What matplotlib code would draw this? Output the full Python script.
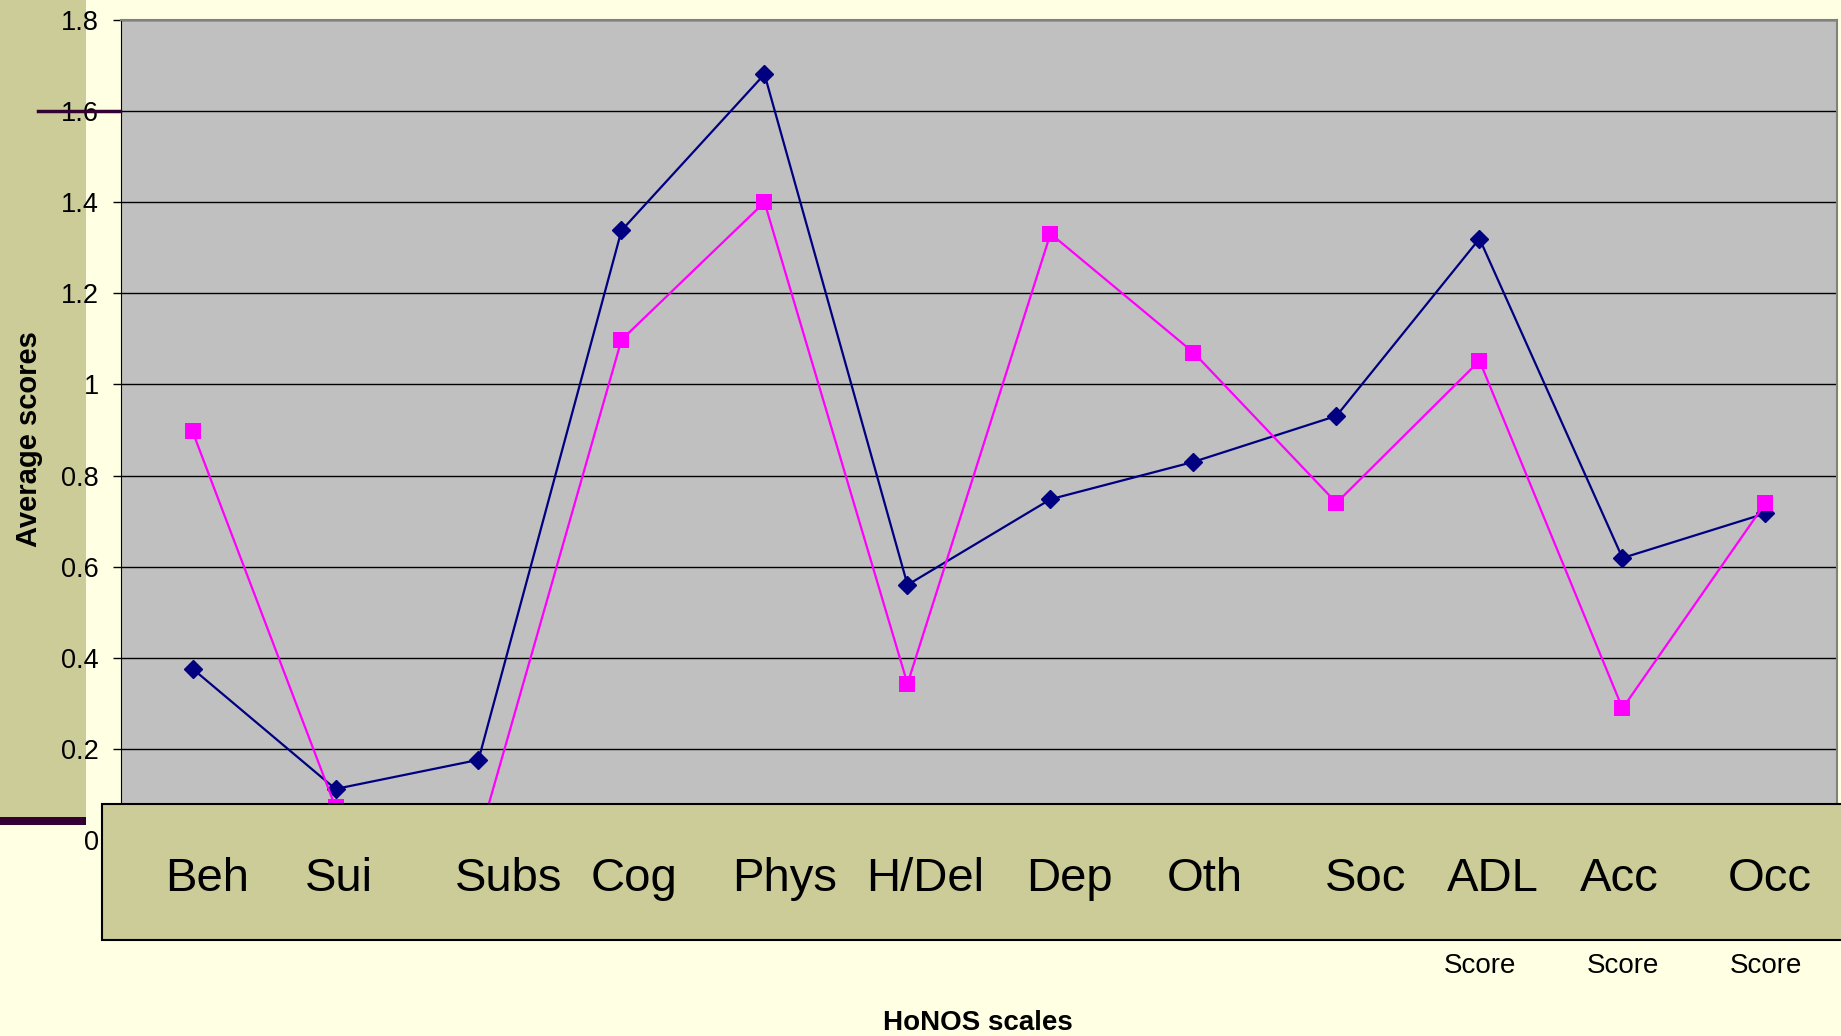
import matplotlib
matplotlib.use("Agg")
import matplotlib.pyplot as plt
import matplotlib.transforms as mtransforms
from matplotlib.patches import Rectangle
from matplotlib.lines import Line2D

# HoNOS scales, average scores for the two groups
scales = ["Beh", "Sui", "Subs", "Cog", "Phys", "H/Del", "Dep", "Oth",
          "Soc", "ADL", "Acc", "Occ"]
blue_scores = [0.376, 0.112, 0.176, 1.338, 1.681, 0.560, 0.748, 0.830,
               0.931, 1.320, 0.619, 0.717]
pink_scores = [0.897, 0.072, 0.0, 1.098, 1.400, 0.343, 1.331, 1.070,
               0.740, 1.052, 0.289, 0.740]
yticks = [0, 0.2, 0.4, 0.6, 0.8, 1, 1.2, 1.4, 1.6, 1.8]
ytick_labels = ["0", "0.2", "0.4", "0.6", "0.8", "1", "1.2", "1.4", "1.6", "1.8"]
# where the big labels sit in the tan box (category units)
label_x = [0.10, 1.025, 2.21, 3.09, 4.14, 5.12, 6.13, 7.08, 8.20, 9.09, 9.98, 11.03]
score_idx = [9, 10, 11]

BG = "#FFFFE3"
TAN = "#CCCC99"
DARK = "#330033"
FONT = ["Liberation Sans", "DejaVu Sans"]

plt.rcParams['font.family'] = FONT

W, H = 1841, 1036
fig = plt.figure(figsize=(W / 100, H / 100), dpi=100, facecolor=BG)

# tan strip on the left, behind everything
fig.add_artist(Rectangle((0, (H - 817) / H), 86 / W, 817 / H,
                         transform=fig.transFigure, facecolor=TAN,
                         edgecolor="none", zorder=-2))
fig.add_artist(Rectangle((0, (H - 825) / H), 86 / W, 8 / H,
                         transform=fig.transFigure, facecolor=DARK,
                         edgecolor="none", zorder=-1))

ax = fig.add_axes([121 / W, (H - 840) / H, (1837 - 121) / W, 820 / H])
ax.set_facecolor("#C0C0C0")

x = list(range(len(scales)))
ax.plot(x, blue_scores, color="#000080", lw=1.6, marker="D", ms=9,
        mec="#000080", mfc="#000080", zorder=3, clip_on=False)
ax.plot(x, pink_scores, color="#FF00FF", lw=1.6, marker="s", ms=11,
        mew=0, mfc="#FF00FF", zorder=4)

ax.set_xlim(-0.5, len(scales) - 0.5)
ax.set_ylim(0, 1.8)
ax.set_yticks(yticks)
ax.set_yticklabels(ytick_labels, fontsize=19.5)
ax.tick_params(axis="y", direction="out", length=6, width=1, pad=10)
ax.set_xticks([])
ax.grid(axis="y", color="black", lw=1)
ax.set_axisbelow(True)
for side in ["top", "right"]:
    ax.spines[side].set_color("#808080")
    ax.spines[side].set_linewidth(1.5)
ax.spines["left"].set_color("black")
ax.spines["bottom"].set_visible(False)

# dark marker line at 1.6 running into the axis
tr = mtransforms.blended_transform_factory(fig.transFigure, ax.transData)
fig.add_artist(Line2D([38 / W, 120 / W], [1.6, 1.6], transform=tr,
                      color=DARK, lw=2.5, zorder=5))

# tan box covering the bottom of the plot, holding the category names
fig.add_artist(Rectangle((102 / W, (H - 940) / H), 1 - 102 / W + 0.01, 136 / H,
                         transform=fig.transFigure, facecolor=TAN,
                         edgecolor="black", lw=1.5, zorder=2))

tx = mtransforms.blended_transform_factory(ax.transData, fig.transFigure)
for lx, name in zip(label_x, scales):
    fig.text(lx, (H - 891) / H, name, transform=tx, fontsize=34,
             ha="center", va="baseline", zorder=6)
for i in score_idx:
    fig.text(x[i], (H - 973) / H, "Score", transform=tx, fontsize=20,
             ha="center", va="baseline", zorder=6)

fig.text(978 / W, (H - 1030) / H, "HoNOS scales", fontsize=20,
         fontweight="bold", ha="center", va="baseline")
fig.text(29 / W, (H - 439) / H, "Average scores", fontsize=21,
         fontweight="bold", rotation=90, ha="center", va="center")

fig.savefig("out.png", dpi=100, facecolor=BG)
